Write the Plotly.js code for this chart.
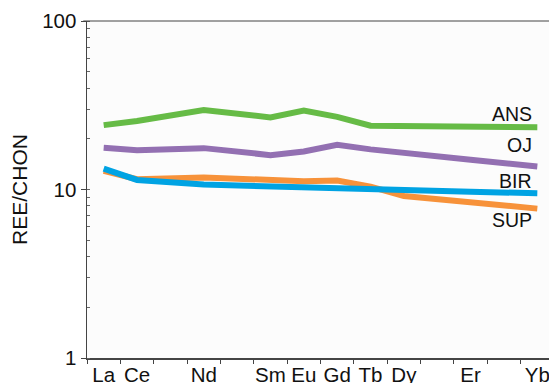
<!DOCTYPE html>
<html><head><meta charset="utf-8">
<script src="https://cdn.plot.ly/plotly-3.0.1.min.js"></script>
<style>html,body{margin:0;padding:0;background:#fff;overflow:hidden}#c{width:560px;height:400px}</style>
</head><body><div id="c"></div>
<script>
const elements = ["La","Ce","Nd","Sm","Eu","Gd","Tb","Dy","Er","Yb"];
const atomicNumbers = [57,58,60,62,63,64,65,66,68,70];
const ANS = [24.1,25.5,29.6,26.8,29.4,27.0,23.9,23.8,23.6,23.4];
const OJ  = [17.7,17.1,17.6,16.0,16.8,18.4,17.3,16.4,15.0,13.7];
const SUP = [12.9,11.5,11.8,11.3,11.2,11.3,10.4,9.15,8.45,7.7];
const BIR = [13.3,11.4,10.7,10.4,10.25,10.2,10.0,9.9,9.7,9.5];
const seriesNames = ["ANS","OJ","SUP","BIR"];
const seriesData = [ANS,OJ,SUP,BIR];
const colors = ["#66bb46","#9370b2","#f7923a","#00a3e3"];
const labelPos = {ANS:1.448, OJ:1.262, BIR:1.053, SUP:0.820};

const traces = seriesNames.map((n,i)=>({
  x: atomicNumbers, y: seriesData[i], type:'scatter', mode:'lines', name:n,
  line:{color:colors[i], width:6}, hoverinfo:'skip'
}));

const annotations = seriesNames.map(n=>({
  x: atomicNumbers[atomicNumbers.length-1], y: labelPos[n], xref:'x', yref:'y',
  text:n, showarrow:false, xanchor:'right', yanchor:'middle', xshift:-3,
  font:{family:'Liberation Sans, Arial, sans-serif', size:19.5, color:'#111'}
}));

const layout = {
  width:560, height:400,
  margin:{l:87, r:6, t:21, b:42, pad:0},
  paper_bgcolor:'#ffffff', plot_bgcolor:'#fcfcfc',
  showlegend:false,
  font:{family:'Liberation Sans, Arial, sans-serif', size:20, color:'#111'},
  xaxis:{
    range:[56.5, 70.5], tickmode:'array', tickvals:atomicNumbers, ticktext:elements,
    ticks:'', showgrid:false, zeroline:false, showline:true, linecolor:'#444', linewidth:1.5,
    tickfont:{size:20.5}, ticklabeloverflow:'allow', ticklabelstandoff:-2,
    minor:{tick0:56.5, dtick:1, ticks:'outside', ticklen:4, tickcolor:'#444', showgrid:false}
  },
  yaxis:{
    type:'log', range:[0,2], tickmode:'array', tickvals:[1,10,100], ticktext:['1','10','100'],
    ticks:'outside', ticklen:5, tickcolor:'#444', showgrid:false, zeroline:false,
    showline:true, linecolor:'#444', linewidth:1.5, tickfont:{size:20.5},
    minor:{ticks:'inside', ticklen:3, tickcolor:'#666', showgrid:false, dtick:'D1'},
    title:{text:'REE/CHON', font:{size:21}, standoff:9}
  },
  annotations: annotations,
  shapes:[{type:'line', xref:'paper', yref:'paper', x0:-0.008, x1:1, y0:1, y1:1, line:{color:'#444', width:1.2}}]
};
Plotly.newPlot('c', traces, layout, {staticPlot:true, displayModeBar:false});
</script></body></html>
